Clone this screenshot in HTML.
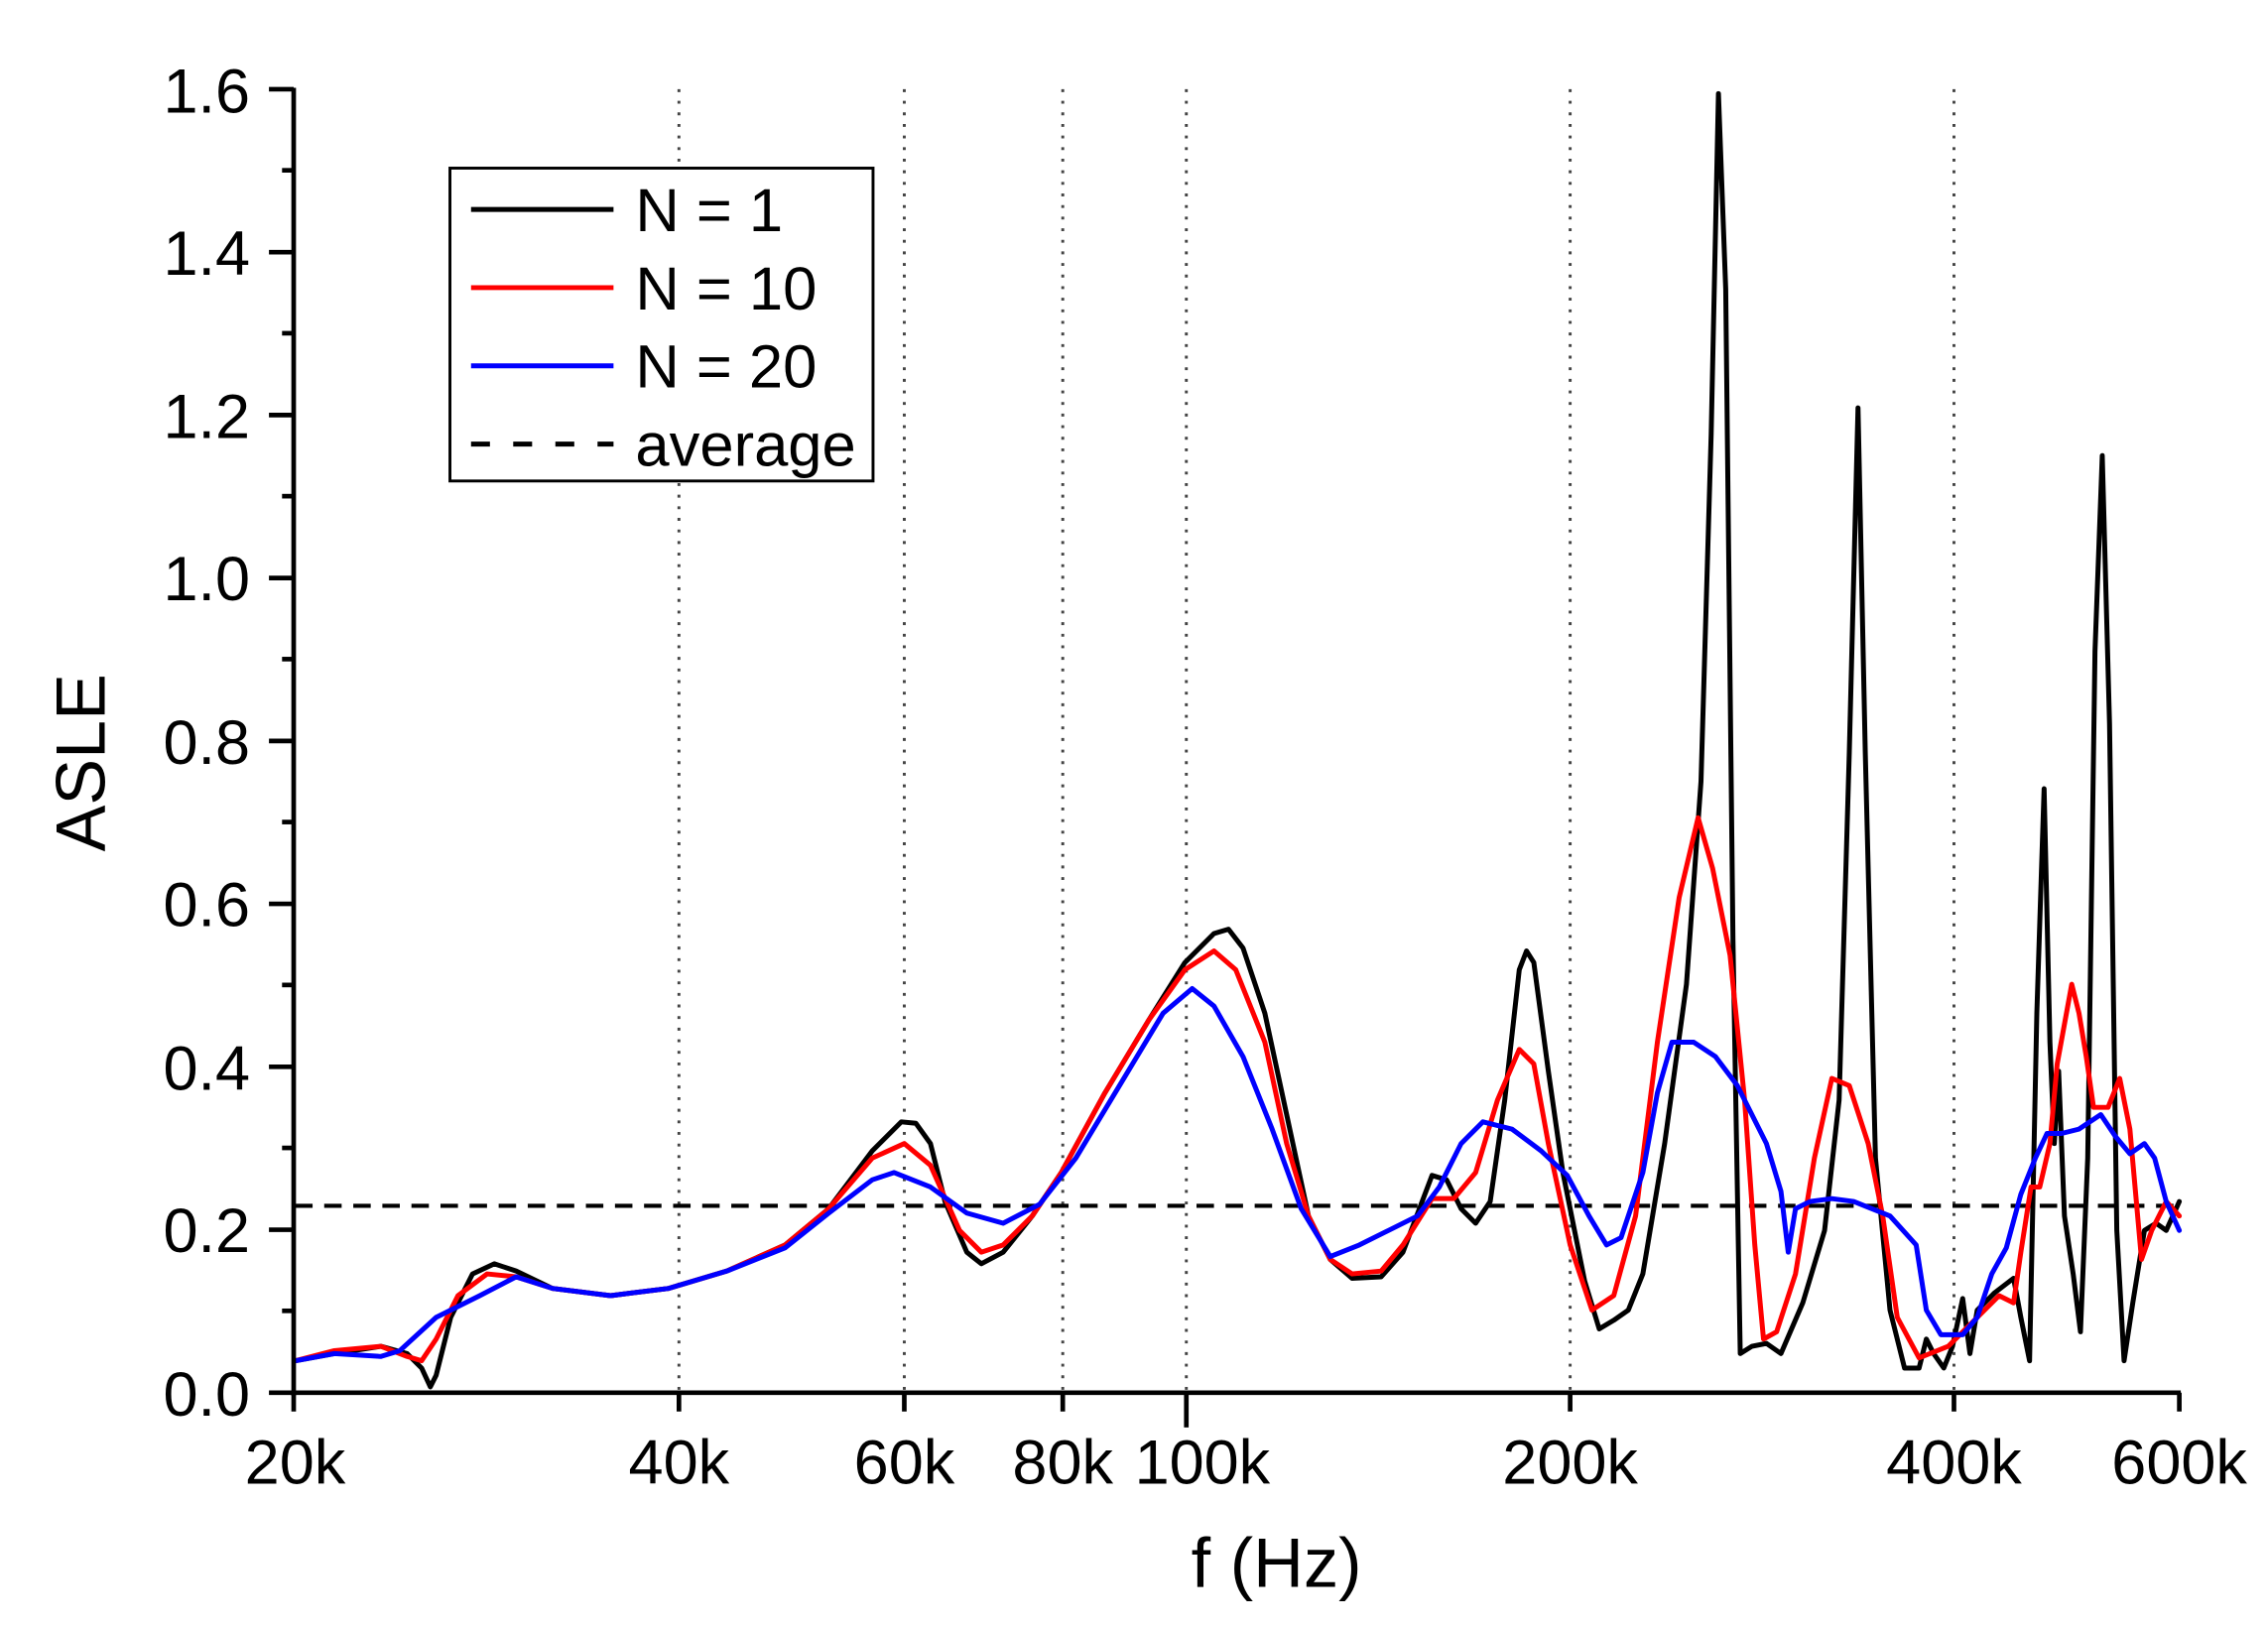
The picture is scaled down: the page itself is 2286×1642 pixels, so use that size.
<!DOCTYPE html>
<html><head><meta charset="utf-8"><style>html,body{margin:0;padding:0;background:#fff}svg{display:block}</style></head>
<body>
<svg width="2286" height="1642" viewBox="0 0 1560 1120.5" preserveAspectRatio="none" xmlns="http://www.w3.org/2000/svg" font-family="Liberation Sans, Arial, sans-serif">
<rect width="1560" height="1120.5" fill="#fff"/>
<g transform="matrix(1 0 0 0.9962 0 -0.4)">
<g stroke="#444" stroke-width="2" stroke-dasharray="2,6">
<line x1="467" y1="62" x2="467" y2="962"/><line x1="622" y1="62" x2="622" y2="962"/><line x1="731" y1="62" x2="731" y2="962"/><line x1="816" y1="62" x2="816" y2="962"/><line x1="1080" y1="62" x2="1080" y2="962"/><line x1="1344" y1="62" x2="1344" y2="962"/>
</g>
<line x1="203" y1="833" x2="1499" y2="833" stroke="#000" stroke-width="2.8" stroke-dasharray="12,8"/>
<g fill="none" stroke-width="3.4" stroke-linejoin="round" stroke-linecap="round">
<polyline stroke="#000" points="203,940 230,935 262,930 280,935 290,945 296,958 300,950 310,910 325,880 340,873 355,878 380,890 420,895 460,890 500,878 540,860 570,835 600,795 620,775 630,776 640,790 650,830 665,865 675,873 690,865 710,840 730,810 760,755 790,705 815,665 835,645 845,642 855,655 870,700 885,770 900,840 915,870 930,883 950,882 965,865 985,812 995,815 1005,835 1015,845 1025,830 1035,760 1045,670 1050,657 1055,665 1065,740 1075,810 1090,885 1100,918 1110,912 1120,905 1130,880 1145,790 1160,680 1170,540 1177,300 1182,65 1187,200 1192,650 1197,935 1205,930 1215,928 1225,935 1240,900 1255,850 1265,760 1272,520 1278,282 1283,520 1290,800 1300,905 1310,945 1320,945 1325,925 1330,935 1337,945 1343,930 1350,897 1355,935 1360,905 1372,893 1385,883 1390,910 1396,940 1401,700 1406,545 1410,720 1413,790 1416,740 1420,840 1426,880 1431,920 1436,800 1441,450 1446,315 1451,500 1456,850 1461,940 1467,900 1475,850 1483,845 1490,850 1499,830"/>
<polyline stroke="#f00" points="203,940 230,933 262,930 280,937 290,940 300,925 315,895 335,880 355,882 380,890 420,895 460,890 500,878 540,860 570,835 600,800 622,790 640,805 660,850 675,865 690,860 710,840 730,810 760,755 790,705 815,670 835,657 850,670 870,720 885,790 900,840 915,870 930,880 950,878 965,860 985,828 1000,828 1015,810 1030,760 1045,725 1055,735 1065,790 1080,860 1095,905 1110,895 1125,840 1140,720 1155,620 1168,565 1178,600 1190,660 1200,760 1207,860 1213,925 1222,920 1235,880 1248,800 1260,745 1272,750 1285,790 1295,840 1305,910 1320,938 1340,930 1360,910 1375,895 1385,900 1390,865 1397,820 1403,820 1410,790 1415,735 1425,680 1430,700 1435,730 1440,765 1450,765 1458,745 1465,780 1473,870 1480,850 1490,830 1499,840"/>
<polyline stroke="#00f" points="203,940 230,935 262,937 275,933 300,910 330,895 355,882 380,890 420,895 460,890 500,878 540,862 570,838 600,815 615,810 640,820 665,838 690,845 715,832 740,800 770,750 800,700 820,683 835,695 855,730 875,780 895,835 915,868 935,860 955,850 975,840 990,820 1005,790 1020,775 1040,780 1060,795 1078,812 1093,840 1105,860 1115,855 1130,810 1140,755 1150,720 1165,720 1180,730 1195,750 1215,790 1225,823 1230,865 1235,835 1245,830 1260,828 1275,830 1300,840 1318,860 1325,905 1335,922 1350,922 1360,910 1370,880 1380,862 1390,825 1400,800 1408,783 1418,783 1430,780 1445,770 1455,785 1465,797 1475,790 1482,800 1490,830 1499,850"/>
</g>
<g stroke="#000" stroke-width="3.2">
<line x1="202" y1="61" x2="202" y2="964"/><line x1="200" y1="962" x2="1500" y2="962"/>
<line x1="185" y1="62" x2="202" y2="62"/><line x1="185" y1="174.5" x2="202" y2="174.5"/><line x1="185" y1="287" x2="202" y2="287"/><line x1="185" y1="399.5" x2="202" y2="399.5"/><line x1="185" y1="512" x2="202" y2="512"/><line x1="185" y1="624.5" x2="202" y2="624.5"/><line x1="185" y1="737" x2="202" y2="737"/><line x1="185" y1="849.5" x2="202" y2="849.5"/><line x1="185" y1="962" x2="202" y2="962"/>
<line x1="194" y1="118" x2="202" y2="118"/><line x1="194" y1="230.5" x2="202" y2="230.5"/><line x1="194" y1="343" x2="202" y2="343"/><line x1="194" y1="455.5" x2="202" y2="455.5"/><line x1="194" y1="568" x2="202" y2="568"/><line x1="194" y1="680.5" x2="202" y2="680.5"/><line x1="194" y1="793" x2="202" y2="793"/><line x1="194" y1="905.5" x2="202" y2="905.5"/>
<line x1="202" y1="962" x2="202" y2="975"/><line x1="467" y1="962" x2="467" y2="975"/><line x1="622" y1="962" x2="622" y2="975"/><line x1="731" y1="962" x2="731" y2="975"/><line x1="816" y1="962" x2="816" y2="986"/><line x1="1080" y1="962" x2="1080" y2="975"/><line x1="1344" y1="962" x2="1344" y2="975"/><line x1="1499" y1="962" x2="1499" y2="975"/>
</g>
<g font-size="43" text-anchor="end" fill="#000">
<text x="172" y="78">1.6</text><text x="172" y="190">1.4</text><text x="172" y="303">1.2</text><text x="172" y="415">1.0</text><text x="172" y="528">0.8</text><text x="172" y="640">0.6</text><text x="172" y="753">0.4</text><text x="172" y="865">0.2</text><text x="172" y="978">0.0</text>
</g>
<g font-size="43" text-anchor="middle" fill="#000">
<text x="203" y="1025">20k</text><text x="467" y="1025">40k</text><text x="622" y="1025">60k</text><text x="731" y="1025">80k</text><text x="827" y="1025">100k</text><text x="1080" y="1025">200k</text><text x="1344" y="1025">400k</text><text x="1499" y="1025">600k</text>
</g>
<text x="878" y="1096" font-size="48" text-anchor="middle">f (Hz)</text>
<text transform="translate(72,527) rotate(-90)" font-size="48" text-anchor="middle">ASLE</text>
<rect x="309.5" y="116.5" width="291" height="216" fill="#fff" stroke="#000" stroke-width="2"/>
<g stroke-width="3.4">
<line x1="324" y1="145" x2="422" y2="145" stroke="#000"/>
<line x1="324" y1="199" x2="422" y2="199" stroke="#f00"/>
<line x1="324" y1="253" x2="422" y2="253" stroke="#00f"/>
<line x1="324" y1="307" x2="422" y2="307" stroke="#000" stroke-dasharray="13,16"/>
</g>
<g font-size="42" fill="#000">
<text x="437" y="160">N = 1</text><text x="437" y="214">N = 10</text><text x="437" y="268">N = 20</text><text x="437" y="322">average</text>
</g>
</g>
</svg>
</body></html>
